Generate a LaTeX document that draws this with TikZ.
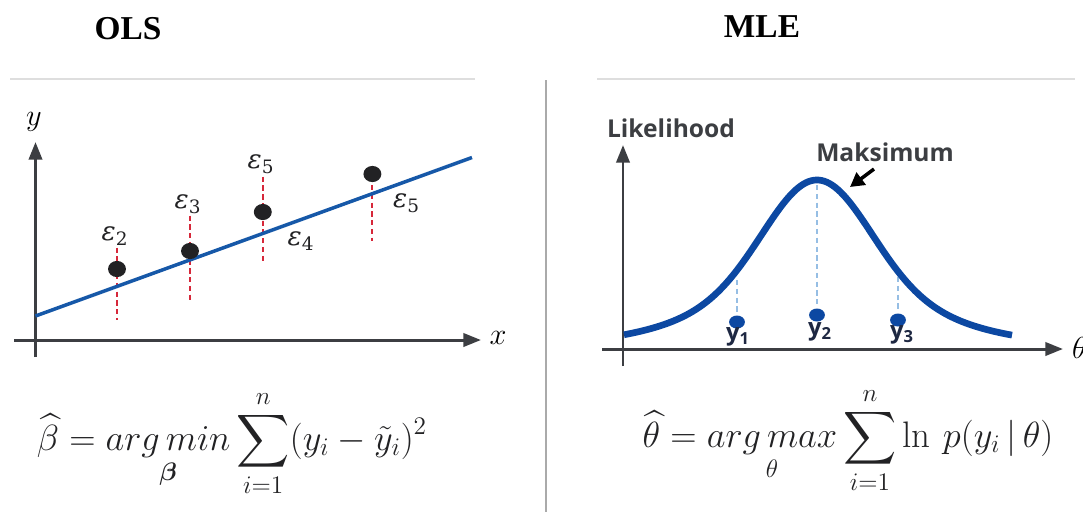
\documentclass[tikz,border=0pt]{standalone}
\usepackage{amsmath}
\usepackage{amssymb}
\usepackage{fontspec}
\usepackage{tikz}
\usetikzlibrary{arrows.meta}
\newfontfamily\titlefont{Liberation Serif}
\newfontfamily\labelfont{Open Sans}
\newfontfamily\epsfont{DejaVu Serif}
\definecolor{axisgrey}{RGB}{60,62,66}
\definecolor{rulegrey}{RGB}{222,222,222}
\definecolor{divgrey}{RGB}{170,170,170}
\definecolor{olsblue}{RGB}{22,88,168}
\definecolor{mleblue}{RGB}{12,72,162}
\definecolor{lightdash}{RGB}{150,190,228}
\definecolor{resred}{RGB}{214,40,58}
\definecolor{dotblack}{RGB}{34,34,36}
\definecolor{labelnavy}{RGB}{30,40,66}

\begin{document}
\begin{tikzpicture}[x=0.02cm,y=-0.02cm,
    axis/.style={draw=axisgrey,line width=1.7pt,-{Triangle[length=10pt,width=7.5pt]}},
    resid/.style={draw=resred,line width=1.1pt,dash pattern=on 3pt off 2pt},
    fitline/.style={draw=olsblue,line width=2pt},
    curve/.style={draw=mleblue,line width=3.8pt},
    guide/.style={draw=lightdash,line width=1pt,dash pattern=on 3pt off 2pt},
    title/.style={font=\titlefont\bfseries\fontsize{19}{22}\selectfont},
    axlab/.style={font=\fontsize{18}{20}\selectfont,text=black},
    eps/.style={font=\epsfont\itshape\fontsize{15}{18}\selectfont,text=dotblack},
    sanslab/.style={font=\labelfont\bfseries\fontsize{14}{16}\selectfont,text=axisgrey},
    ylab/.style={font=\labelfont\bfseries\fontsize{13.5}{15}\selectfont,text=labelnavy},
    formula/.style={font=\fontsize{21}{24}\selectfont,text=dotblack}]
    \useasboundingbox (0,0) rectangle (1083,512);
    \fill[white] (0,0) rectangle (1083,512);

    % Titles
    \node[title] (ols) at (128,29) {OLS};
    \node[title] (mle) at (762,27) {MLE};

    % Panel rules and divider
    \draw[rulegrey,line width=1.2pt] (10,79) -- (475,79);
    \draw[rulegrey,line width=1.2pt] (597,79) -- (1075,79);
    \draw[divgrey,line width=0.9pt] (546,80) -- (546,512);

    % OLS axes
    \coordinate (xa0) at (14,340);
    \coordinate (xa1) at (481,340);
    \coordinate (ya0) at (35.5,357);
    \coordinate (ya1) at (35.5,142);
    \draw[axis] (xa0) -- (xa1);
    \draw[axis] (ya0) -- (ya1);
    \node[axlab] (xlab) at (498,338) {$x$};
    \node[axlab] (ylab) at (34,122) {$y$};

    % Residuals, fitted line and observations
    \foreach \px/\top/\bot in {117/247.7/320,190/215.6/301.7,262.8/176.7/263,372.4/185/241}{
        \draw[resid] (\px,\top) -- (\px,\bot);
    }
    \coordinate (fit0) at (35.5,316);
    \coordinate (fit1) at (472,157.5);
    \draw[fitline] (fit0) -- (fit1);
    \foreach \px/\py in {117/269,190/251,262.8/212,372.4/174}{
        \fill[dotblack] (\px,\py) ellipse (5.1pt and 4.6pt);
    }
    \node[eps] (e2) at (115,236) {ε\textsubscript{\upshape 2}};
    \node[eps] (e3) at (188,204) {ε\textsubscript{\upshape 3}};
    \node[eps] (e5a) at (261,164) {ε\textsubscript{\upshape 5}};
    \node[eps] (e4) at (301,241) {ε\textsubscript{\upshape 4}};
    \node[eps] (e5b) at (406.5,203) {ε\textsubscript{\upshape 5}};

    % OLS estimator
    \node[formula,anchor=base] (olsf) at (232,450)
        {$\displaystyle \widehat{\beta} = \mathop{arg\,min}\limits_{\boldsymbol{\beta}} \sum\limits_{i=1}^{n}(y_i-\tilde{y}_i)^2$};

    % MLE axes
    \coordinate (xb0) at (602,349);
    \coordinate (xb1) at (1063,349);
    \coordinate (yb0) at (623,366);
    \coordinate (yb1) at (623,145);
    \draw[axis] (xb0) -- (xb1);
    \draw[axis] (yb0) -- (yb1);
    \node[axlab,anchor=west] (thlab) at (1066,348) {$\theta$};
    \node[sanslab] (lik) at (671,128) {Likelihood};

    % Likelihood curve
    \foreach \px/\top/\bot in {737/280/313,817/185/305,898/277/312}{
        \draw[guide] (\px,\top) -- (\px,\bot);
    }
    \draw[curve] plot[domain=624:1012,samples=150]
        (\x,{345-110*exp(-((\x-817)/73.54)^2)-55*exp(-((\x-817)/148.5)^2)});
    \foreach \px/\py in {737/322,817/315,898/320}{
        \fill[mleblue] (\px,\py) ellipse (4.5pt and 3.7pt);
    }
    \node[ylab] (y1) at (738,337) {y\textsubscript{1}};
    \node[ylab] (y2) at (820,332) {y\textsubscript{2}};
    \node[ylab] (y3) at (902,335) {y\textsubscript{3}};

    % Maximum marker
    \node[sanslab] (maks) at (885,152) {Maksimum};
    \coordinate (arw0) at (874,169);
    \coordinate (arw1) at (850,187);
    \draw[black,line width=2pt,-{Triangle[length=8pt,width=8.5pt]}] (arw0) -- (arw1);

    % MLE estimator
    \node[formula,anchor=base] (mlef) at (848,447)
        {$\displaystyle \widehat{\theta} = \mathop{arg\,max}\limits_{\theta} \sum\limits_{i=1}^{n} \ln\, p(y_i\,|\,\theta)$};
\end{tikzpicture}
\end{document}
